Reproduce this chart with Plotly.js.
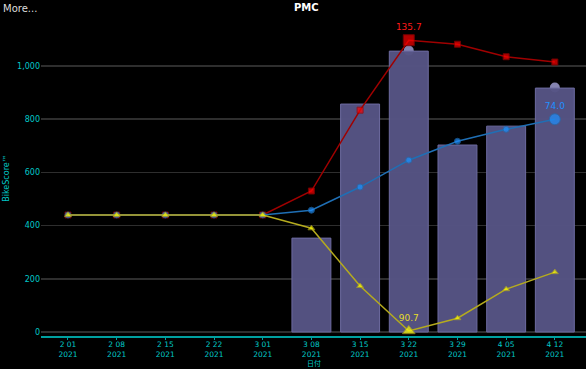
<!DOCTYPE html>
<html><head><meta charset="utf-8">
<script src="https://cdn.plot.ly/plotly-3.0.1.min.js"></script>
<style>html,body{margin:0;padding:0;background:#000;}#chart{width:586px;height:369px;}</style>
</head><body><div id="chart"></div>
<script>
const weeks = ["2 01","2 08","2 15","2 22","3 01","3 08","3 15","3 22","3 29","4 05","4 12"];
const years = ["2021","2021","2021","2021","2021","2021","2021","2021","2021","2021","2021"];
const barValues = [null,null,null,null,null,353,857,1056,703,774,917];
const barDots = [null,null,null,null,null,null,null,1058,null,null,919];
const redValues = [440,440,440,440,440,530,834,1097,1082,1035,1015];
const blueValues = [440,440,440,440,440,458,545,646,717,762,800];
const yellowValues = [440,440,440,440,440,390,173,4,52,161,225];
const redLabels = ["","","","","","","","135.7","","",""];
const blueLabels = ["","","","","","","","","","","74.0"];
const yellowLabels = ["","","","","","","","90.7","","",""];

const cats = weeks.map((w,i)=>w+"<br>"+years[i]);
const big = (labels, s, b)=>labels.map(l=>l? b : s);

const font = "DejaVu Sans, sans-serif";
const traces = [
  {type:"bar", x:cats, y:barValues, width:0.8,
   marker:{color:"rgba(86,84,132,0.97)", line:{color:"#6d6ba0", width:1}}},
  {type:"scatter", mode:"lines+markers+text", x:cats, y:redValues,
   line:{color:"#a00000", width:1.5},
   marker:{symbol:"square", color:"#ff0000", size:big(redLabels,6,11)},
   text:redLabels, textposition:"top center", textfont:{color:"#ff1a1a", size:9, family:font}},
  {type:"scatter", mode:"lines+markers+text", x:cats, y:blueValues,
   line:{color:"#1f6fb5", width:1.5},
   marker:{symbol:"circle", color:"#1e90ff", size:big(blueLabels,6,11)},
   text:blueLabels, textposition:"top center", textfont:{color:"#1e90ff", size:9, family:font}},
  {type:"scatter", mode:"lines+markers+text", x:cats, y:yellowValues,
   line:{color:"#b5ab1e", width:1.5},
   marker:{symbol:"triangle-up", color:"#ffff00", size:big(yellowLabels,6,11)},
   text:yellowLabels, textposition:"top center", textfont:{color:"#e6dc2a", size:9, family:font}}
];

// dots sitting half-hidden behind the bar tops
const shapes = [];
barDots.forEach((v,i)=>{
  if (v === null) return;
  shapes.push({type:"circle", layer:"below", xref:"x", yref:"y",
    xsizemode:"pixel", ysizemode:"pixel", xanchor:i, yanchor:v,
    x0:-5, x1:5, y0:-5, y1:5, fillcolor:"#8583b0", line:{width:0}});
});

const layout = {
  width:586, height:369, paper_bgcolor:"#000", plot_bgcolor:"#000",
  margin:{l:41, r:0, t:20, b:33},
  showlegend:false,
  font:{family:font, size:8, color:"#00c8c8"},
  xaxis:{type:"category", range:[-0.554, 10.64], showgrid:false,
    showline:true, linecolor:"#00a0a0", linewidth:2,
    ticks:"outside", ticklen:2, tickcolor:"#00a0a0", ticklabelstandoff:-2,
    tickfont:{color:"#00c8c8", size:7.5, family:font},
    zeroline:false, fixedrange:true},
  yaxis:{range:[-15, 1173], tickvals:[0,200,400,600,800,1000], tickformat:",",
    showgrid:true, gridcolor:"#2e2e2e", gridwidth:1.5, zeroline:false,
    showline:false, ticks:"", tickfont:{color:"#00c8c8", size:8, family:font},
    title:{text:"BikeScore™", font:{color:"#00c8c8", size:8, family:font}, standoff:6}},
  shapes:shapes,
  annotations:[
    {text:"<b>PMC</b>", xref:"paper", yref:"paper", x:0.487, y:1, yshift:20, yanchor:"top", showarrow:false,
     font:{color:"#ffffff", size:10, family:font}},
    {text:"More...", xref:"paper", yref:"paper", x:-0.073, xanchor:"left", y:1, yshift:19, yanchor:"top", showarrow:false,
     font:{color:"#dddddd", size:10, family:font}},
    {text:"日付", xref:"paper", yref:"paper", x:0.5, y:0, yshift:-33, yanchor:"bottom", height:9, showarrow:false,
     font:{color:"#00c8c8", size:7, family:"Noto Sans CJK JP"}}
  ]
};
Plotly.newPlot("chart", traces, layout, {displayModeBar:false, staticPlot:true});
</script>
</body></html>
